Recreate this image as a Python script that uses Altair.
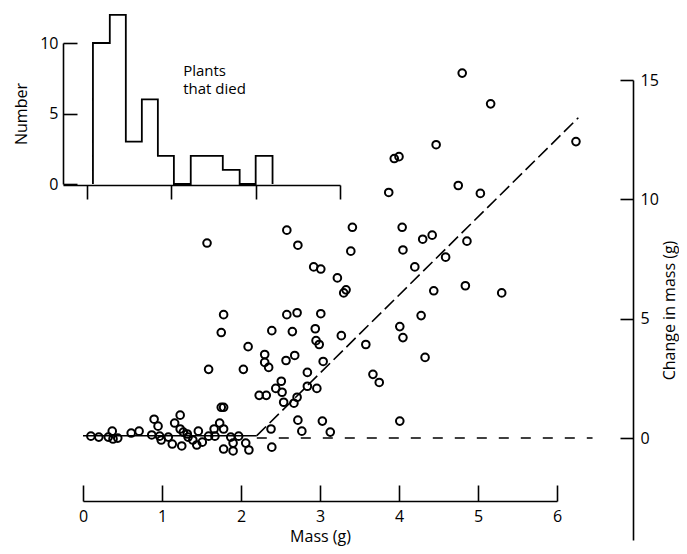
import altair as alt
import pandas as pd

FONT = "Open Sans"

# ---- histogram of plants that died (mass class edges in g, counts) ----
hist_edges = [0.07, 0.27, 0.46, 0.65, 0.84, 1.03, 1.23, 1.42, 1.61, 1.81, 2.0, 2.2]
hist_counts = [10, 12, 3, 6, 2, 0, 2, 2, 1, 0, 2]
hist_x_ticks = [0, 1, 2, 3]
hist_y_ticks = [0, 5, 10]
note_lines = ["Plants", "that died"]
note_x = [1.14, 1.14]
note_y = [7.65, 6.35]

# ---- scatter: initial mass (g) vs change in mass (g) ----
mass = [
    4.80, 5.16, 4.47, 6.24, 3.94, 4.00, 3.87, 4.75, 5.03, 3.41,
    4.04, 4.30, 4.42, 4.86, 4.05, 3.39, 4.59, 4.20, 4.44, 4.84,
    5.30, 4.28, 4.33, 3.22, 3.30, 3.33, 2.58, 2.72, 1.57, 2.92,
    3.01, 1.78, 1.75, 2.58, 2.71, 3.01, 2.39, 2.65, 2.94, 2.95,
    2.99, 3.27, 3.58, 4.01, 4.05, 2.09, 2.30, 2.30, 2.35, 2.57,
    2.68, 3.04, 1.59, 2.03, 2.84, 3.67, 3.75, 2.51, 2.44, 2.52,
    2.23, 2.32, 2.54, 2.71, 2.67, 2.84, 2.96, 1.75, 1.78, 2.72,
    3.03, 4.01, 2.77, 3.13, 2.38, 2.39, 0.10, 0.20, 0.32, 0.37,
    0.38, 0.44, 0.61, 0.71, 0.90, 0.95, 0.87, 0.97, 0.99, 1.08,
    1.13, 1.16, 1.23, 1.23, 1.27, 1.32, 1.33, 1.25, 1.39, 1.46,
    1.44, 1.51, 1.59, 1.66, 1.67, 1.73, 1.78, 1.87, 1.90, 1.90,
    1.78, 1.97, 2.06, 2.10,
]
change = [
    15.29, 14.00, 12.29, 12.42, 11.71, 11.79, 10.29, 10.58, 10.25, 8.83,
    8.83, 8.33, 8.50, 8.25, 7.88, 7.83, 7.58, 7.17, 6.17, 6.38,
    6.08, 5.13, 3.38, 6.71, 6.08, 6.21, 8.71, 8.08, 8.17, 7.17,
    7.08, 5.17, 4.42, 5.17, 5.25, 5.21, 4.50, 4.46, 4.58, 4.08,
    3.92, 4.29, 3.92, 4.67, 4.21, 3.83, 3.50, 3.17, 2.96, 3.25,
    3.46, 3.21, 2.88, 2.88, 2.75, 2.67, 2.33, 2.38, 2.08, 1.92,
    1.79, 1.79, 1.50, 1.71, 1.46, 2.17, 2.08, 1.29, 1.29, 0.75,
    0.71, 0.71, 0.29, 0.25, 0.38, -0.38, 0.08, 0.04, 0.04, 0.29,
    -0.04, 0.00, 0.21, 0.29, 0.79, 0.50, 0.13, 0.08, -0.08, 0.04,
    -0.25, 0.63, 0.96, 0.38, 0.25, 0.17, 0.04, -0.33, -0.08, 0.29,
    -0.29, -0.17, 0.08, 0.38, 0.08, 0.63, 0.38, 0.04, -0.21, -0.54,
    -0.46, 0.08, -0.21, -0.50,
]
mass_ticks = [0, 1, 2, 3, 4, 5, 6]
change_ticks = [0, 5, 10, 15]

# ---- fitted lines ----
flat_x = [0.0, 2.2]
flat_y = [0.1, 0.1]
rise_x = [2.2, 6.27]
rise_y = [0.1, 13.42]
zero_x = [2.2, 6.45]
zero_y = [0.0, 0.0]

W, H = 474, 460


def hx():
    return alt.Scale(domain=[-0.285, 3], range=[-20, 257], nice=False, zero=False)


def hy():
    return alt.Scale(domain=[0, 10], range=[104, -37], nice=False, zero=False)


def mx():
    return alt.Scale(domain=[0, 6], nice=False, zero=False)


def my():
    return alt.Scale(domain=[-4.27, 15], nice=False, zero=False)


# histogram step outline
step_x = [hist_edges[0]] + hist_edges[:-1] + [hist_edges[-1]]
step_y = [0] + hist_counts + [0]
step_df = pd.DataFrame({"m": step_x, "n": step_y, "i": list(range(len(step_x)))})

hist_line = alt.Chart(step_df).mark_line(
    interpolate="step-after", color="black", strokeWidth=1.8
).encode(
    x=alt.X("m:Q", scale=hx(),
            axis=alt.Axis(orient="bottom", offset=-(H - 105), values=hist_x_ticks,
                          labels=False, tickSize=14, title=None, grid=False)),
    y=alt.Y("n:Q", scale=hy(),
            axis=alt.Axis(orient="right", offset=-(W + 20), values=hist_y_ticks,
                          tickSize=14, labelAlign="right", labelPadding=-19,
                          title="Number", titleAngle=270, titleX=-42,
                          titleBaseline="middle", grid=False)),
    order=alt.Order("i:Q"),
)

note_df = pd.DataFrame({"m": note_x, "n": note_y, "t": note_lines})
hist_text = alt.Chart(note_df).mark_text(
    align="left", baseline="alphabetic", font=FONT, fontSize=15, color="black"
).encode(
    x=alt.X("m:Q", scale=hx(), axis=None),
    y=alt.Y("n:Q", scale=hy(), axis=None),
    text="t:N",
)

pts_df = pd.DataFrame({"mass": mass, "change": change})
points = alt.Chart(pts_df).mark_point(
    shape="circle", filled=False, size=58, strokeWidth=2, color="black", opacity=1
).encode(
    x=alt.X("mass:Q", scale=mx(),
            axis=alt.Axis(orient="top", offset=-421, values=mass_ticks, tickSize=16,
                          labelBaseline="top", labelPadding=-23, labelFlush=False,
                          title="Mass (g)", titleY=35, titleBaseline="middle", grid=False)),
    y=alt.Y("change:Q", scale=my(),
            axis=alt.Axis(orient="left", offset=-550, values=change_ticks, tickSize=13,
                          labelAlign="left", labelPadding=-20, labelFlush=False,
                          title="Change in mass (g)", titleAngle=270, titleX=36,
                          titleBaseline="middle", grid=False)),
)


def seg(xs, ys, dash=None, width=1.6):
    df = pd.DataFrame({"mass": xs, "change": ys})
    kw = dict(color="black", strokeWidth=width)
    if dash is not None:
        kw["strokeDash"] = dash
    return alt.Chart(df).mark_line(**kw).encode(
        x=alt.X("mass:Q", scale=mx(), axis=None),
        y=alt.Y("change:Q", scale=my(), axis=None),
    )


flat = seg(flat_x, flat_y)
rise = seg(rise_x, rise_y, dash=[13, 5])
zero = seg(zero_x, zero_y, dash=[10, 12])

chart = alt.layer(hist_line, hist_text, zero, flat, rise, points).resolve_scale(
    x="independent", y="independent"
).properties(
    width=W, height=H,
    autosize=alt.AutoSizeParams(type="none"),
    padding={"left": 75, "top": 72, "right": 122, "bottom": 6},
).configure_view(stroke=None).configure_axis(
    labelFont=FONT, labelFontSize=16, titleFont=FONT, titleFontSize=16,
    titleFontWeight="normal", labelColor="black", titleColor="black",
    domainColor="black", tickColor="black", domainWidth=1.6, tickWidth=1.6,
)

chart.save("out.html", embed_options={"renderer": "svg", "actions": False})
